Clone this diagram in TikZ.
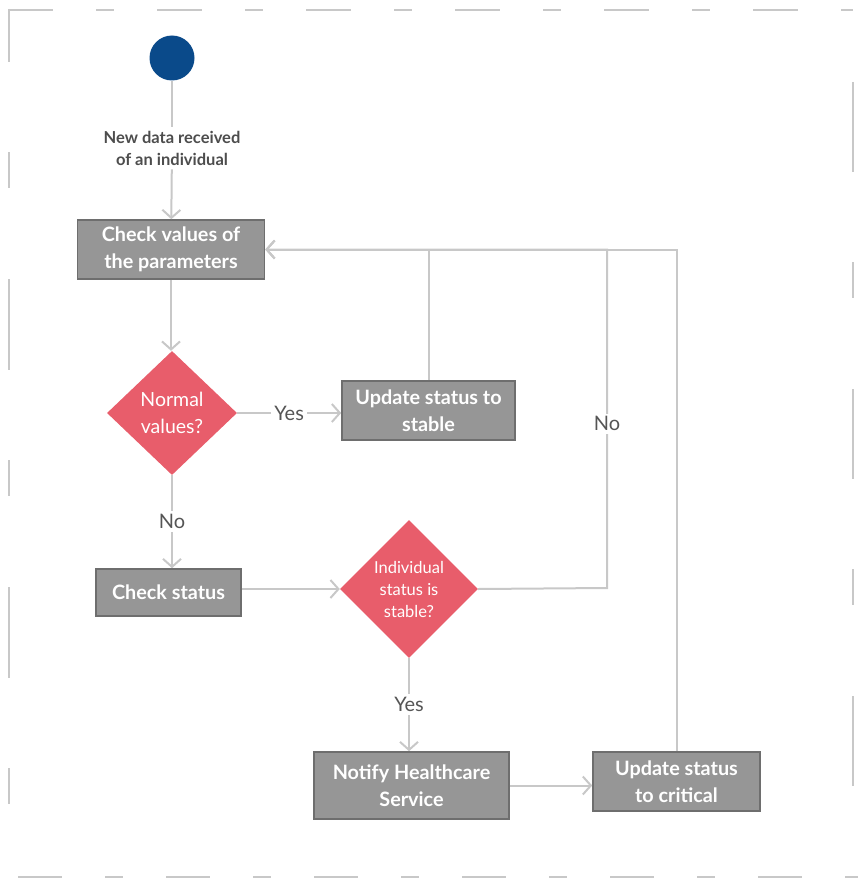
\documentclass[tikz,border=0pt]{standalone}
\usepackage{fontspec}
\setmainfont{Lato}
\usetikzlibrary{arrows.meta,shapes.geometric}
\definecolor{linegray}{HTML}{C8C8C8}
\definecolor{boxfill}{HTML}{969696}
\definecolor{boxedge}{HTML}{6E6E6E}
\definecolor{decision}{HTML}{E85D6B}
\definecolor{startblue}{HTML}{0A4A8A}
\definecolor{labelgray}{HTML}{555555}
\definecolor{notegray}{HTML}{4D4D4D}

\begin{document}
\begin{tikzpicture}[x=1pt,y=-1pt,
  flow/.style={draw=linegray, line width=2pt,
    -{Straight Barb[length=8pt,width=18pt,line width=2pt]}},
  link/.style={draw=linegray, line width=2pt},
  box/.style={rectangle, draw=boxedge, line width=1.6pt, fill=boxfill,
    text=white, font=\bfseries\fontsize{19.8}{26.5}\selectfont, align=center, inner sep=0pt},
  decide/.style={diamond, fill=decision, text=white, align=center, inner sep=0pt},
  lbl/.style={fill=white, text=labelgray, font=\fontsize{20}{26}\selectfont, inner sep=3pt},
  note/.style={fill=white, text=notegray, font=\bfseries\fontsize{16.5}{22}\selectfont,
    align=center, inner sep=4pt},
  frame/.style={draw=linegray, line width=2pt}
]
\useasboundingbox (0,0) rectangle (866,888);

% dashed outer frame
\draw[frame, dash pattern=on 45pt off 43pt on 18pt off 43pt] (8,10) -- (853,10);
\draw[frame, dash pattern=on 91pt off 90pt on 36pt off 91pt, dash phase=38pt] (9,9) -- (9,877);
\draw[frame, dash pattern=on 44pt off 43pt on 18pt off 43pt, dash phase=139pt] (9,877) -- (858,877);
\draw[frame, dash pattern=on 90pt off 90pt on 36pt off 91pt, dash phase=235pt] (853,10) -- (853,877);

% nodes
\node[circle, fill=startblue, minimum size=45pt, inner sep=0pt] (start) at (172,58) {};
\node[note] (newdata) at (172,148) {New data received\\of an individual};
\node[box, minimum width=187pt, minimum height=59pt] (check) at (171,249.5) {Check values of\\the parameters};
\node[decide, minimum width=130pt, minimum height=124pt, font=\fontsize{19.5}{27}\selectfont] (normal) at (172,413) {Normal\\values?};
\node[box, minimum width=173pt, minimum height=59pt] (stable) at (428.5,410.5) {Update status to\\stable};
\node[box, minimum width=145pt, minimum height=47pt] (status) at (168.5,592.5) {Check status};
\node[decide, minimum width=138pt, minimum height=138pt, font=\fontsize{16.5}{22}\selectfont] (isstable) at (409,589) {Individual\\status is\\stable?};
\node[box, minimum width=195pt, minimum height=67pt] (notify) at (411.5,785.5) {Notify Healthcare\\Service};
\node[box, minimum width=167pt, minimum height=59pt] (critical) at (676.5,781.5) {Update status\\to critical};
\coordinate (noturn) at (607,588);

% connectors
\draw[link] (start) -- (newdata);
\draw[flow] (newdata) -- (check);
\draw[flow] (check.south) -- (check.south |- normal.north);
\draw[flow] (normal.east) -- node[lbl]{Yes} (normal.east -| stable.west);
\draw[flow] (normal.south) -- node[lbl]{No} (normal.south |- status.north);
\draw[flow] (status.east |- isstable.west) -- (isstable.west);
\draw[flow] (isstable.south) -- node[lbl]{Yes} (isstable.south |- notify.north);
\draw[flow] (notify.east) -- (notify.east -| critical.west);
\draw[flow] (stable.north) |- (check.east);
\draw[flow] (isstable.east) -- (noturn) -- node[lbl, pos=0.485]{No} (noturn |- check.east) -- (check.east);
\draw[flow] (critical.north) |- (check.east);
\end{tikzpicture}
\end{document}
